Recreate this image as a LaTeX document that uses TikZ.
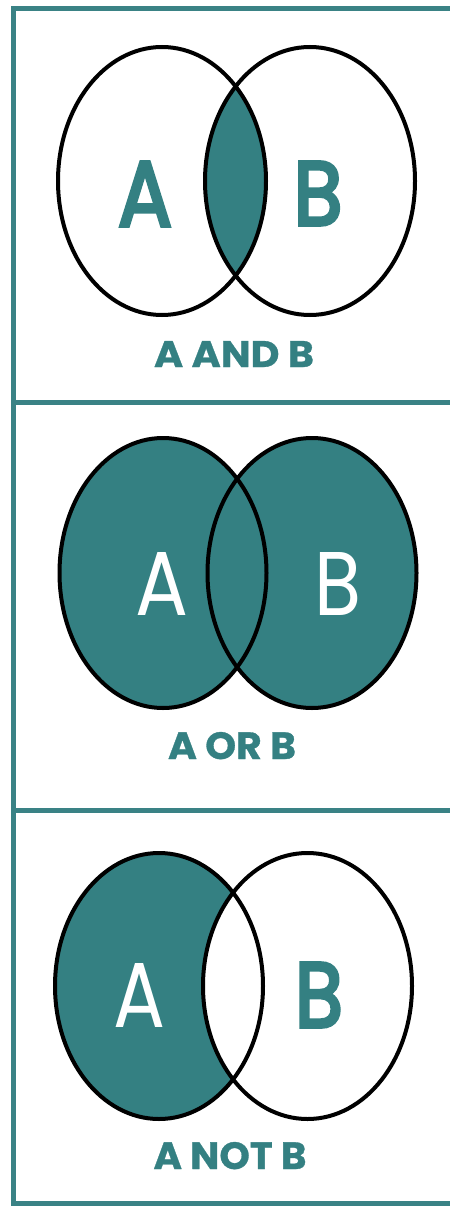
\documentclass[tikz,border=0pt]{standalone}
\usepackage{fontspec}
\setmainfont{Poppins}
\newfontfamily\medfont{Poppins}[FakeBold=4]
\definecolor{tealfill}{RGB}{52,128,130}
\definecolor{framecol}{RGB}{58,130,133}
\tikzset{
  outline/.style={draw=black, line width=4pt},
  bigletter/.style={anchor=base, inner sep=0pt, font=\fontsize{90}{90}\selectfont\medfont},
  thinletter/.style={anchor=base, inner sep=0pt, font=\fontsize{90}{90}\selectfont},
  captext/.style={anchor=base, inner sep=0pt, text=tealfill, font=\fontsize{37}{37}\selectfont\bfseries\addfontfeature{FakeBold=0.8}},
  frameline/.style={draw=framecol, line width=5pt}
}
\begin{document}
\begin{tikzpicture}[x=1pt,y=-1pt]
\useasboundingbox (0,0) rectangle (450,1206);
\fill[white] (0,0) rectangle (450,1206);
% frame
\draw[frameline] (13,9) -- (450,9);
\draw[frameline] (13,6.5) -- (13,1206);
\draw[frameline] (13,402) -- (450,402);
\draw[frameline] (13,810) -- (450,810);
\draw[frameline] (13,1203.5) -- (450,1203.5);

% Panel 1: A AND B
\begin{scope}
  \clip (162,181) ellipse [x radius=104, y radius=134];
  \fill[tealfill] (310,181) ellipse [x radius=105, y radius=134];
\end{scope}
\draw[outline] (162,181) ellipse [x radius=104, y radius=134];
\draw[outline] (310,181) ellipse [x radius=105, y radius=134];
\node[bigletter, text=tealfill] (a1) at (145,226) {\resizebox{54pt}{64pt}{A}};
\node[bigletter, text=tealfill] (b1) at (318,225) {\resizebox{49pt}{63pt}{B}};
\node[captext] (c1) at (234,367) {\resizebox{160pt}{26pt}{A AND B}};

% Panel 2: A OR B
\fill[tealfill] (163,573) ellipse [x radius=103.5, y radius=135];
\fill[tealfill] (312,573) ellipse [x radius=104.5, y radius=135];
\draw[outline] (163,573) ellipse [x radius=103.5, y radius=135];
\draw[outline] (312,573) ellipse [x radius=104.5, y radius=135];
\node[thinletter, text=white] (a2) at (162,615) {\resizebox{53pt}{63pt}{A}};
\node[thinletter, text=white] (b2) at (338,615) {\resizebox{47pt}{63pt}{B}};
\node[captext] (c2) at (232,759) {\resizebox{128pt}{27pt}{A OR B}};

% Panel 3: A NOT B
\fill[tealfill] (159,986) ellipse [x radius=104, y radius=133];
\fill[white] (307.5,986) ellipse [x radius=104.5, y radius=133];
\draw[outline] (159,986) ellipse [x radius=104, y radius=133];
\draw[outline] (307.5,986) ellipse [x radius=104.5, y radius=133];
\node[thinletter, text=white] (a3) at (139,1027) {\resizebox{52pt}{64pt}{A}};
\node[bigletter, text=tealfill] (b3) at (319,1027) {\resizebox{48pt}{64pt}{B}};
\node[captext] (c3) at (230,1169) {\resizebox{153pt}{27pt}{A NOT B}};
\end{tikzpicture}
\end{document}
